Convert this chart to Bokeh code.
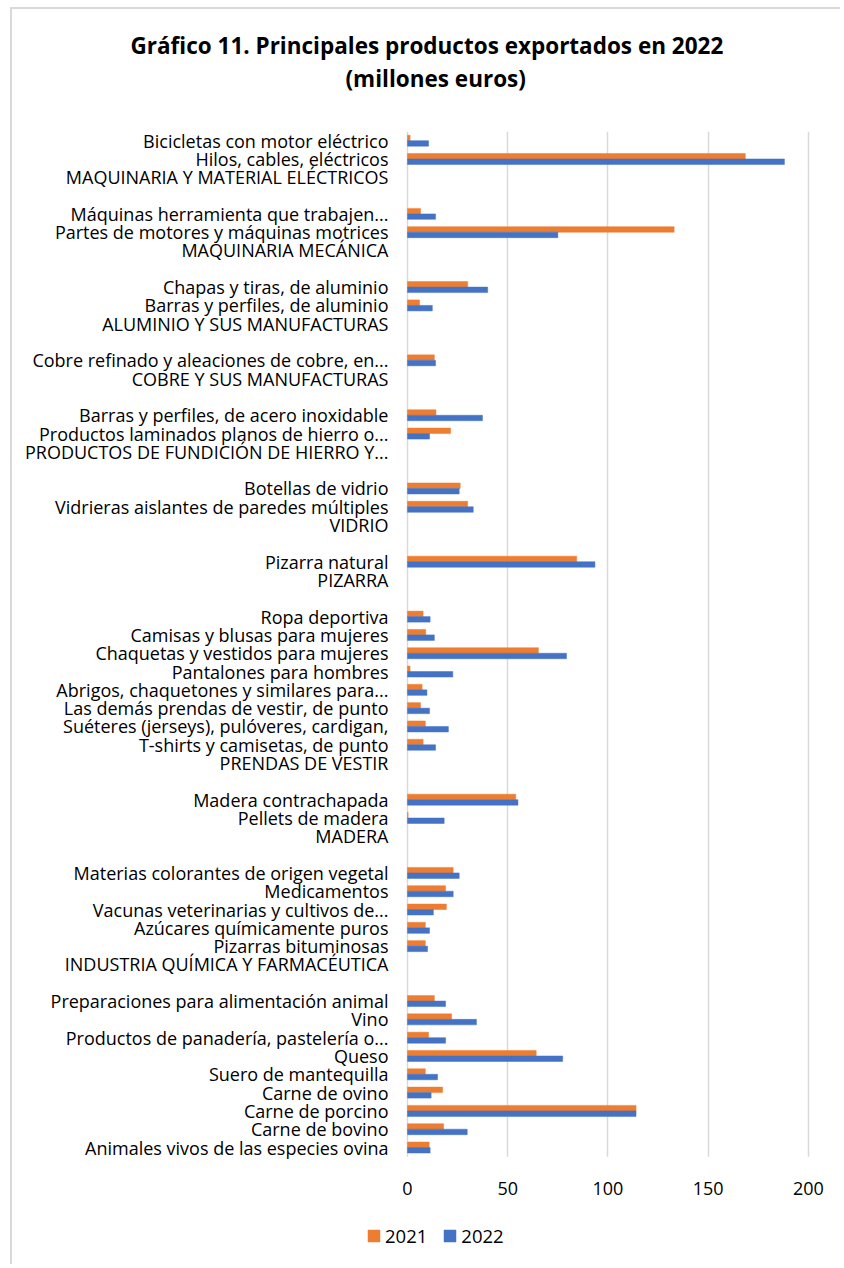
from bokeh.plotting import figure
from bokeh.models import (FactorRange, Range1d, ColumnDataSource, Legend,
                          LegendItem, Title, FixedTicker, BoxAnnotation)
from bokeh.transform import dodge
from bokeh.embed import file_html
from bokeh.resources import INLINE

# ---- data (top-to-bottom order as in the reference; "" = blank spacer row) ----
labels = [
    "Bicicletas con motor eléctrico",
    "Hilos, cables, eléctricos",
    "MAQUINARIA Y MATERIAL ELÉCTRICOS",
    "",
    "Máquinas herramienta que trabajen...",
    "Partes de motores y máquinas motrices",
    "MAQUINARIA MECÁNICA",
    "",
    "Chapas y tiras, de aluminio",
    "Barras y perfiles, de aluminio",
    "ALUMINIO Y SUS MANUFACTURAS",
    "",
    "Cobre refinado y aleaciones de cobre, en...",
    "COBRE Y SUS MANUFACTURAS",
    "",
    "Barras y perfiles, de acero inoxidable",
    "Productos laminados planos de hierro o...",
    "PRODUCTOS DE FUNDICIÓN DE HIERRO Y...",
    "",
    "Botellas de vidrio",
    "Vidrieras aislantes de paredes múltiples",
    "VIDRIO",
    "",
    "Pizarra natural",
    "PIZARRA",
    "",
    "Ropa deportiva",
    "Camisas y blusas para mujeres",
    "Chaquetas y vestidos para mujeres",
    "Pantalones para hombres",
    "Abrigos, chaquetones y similares para...",
    "Las demás prendas de vestir, de punto",
    "Suéteres (jerseys), pulóveres, cardigan,",
    "T-shirts y camisetas, de punto",
    "PRENDAS DE VESTIR",
    "",
    "Madera contrachapada",
    "Pellets de madera",
    "MADERA",
    "",
    "Materias colorantes de origen vegetal",
    "Medicamentos",
    "Vacunas veterinarias y cultivos de...",
    "Azúcares químicamente puros",
    "Pizarras bituminosas",
    "INDUSTRIA QUÍMICA Y FARMACÉUTICA",
    "",
    "Preparaciones para alimentación animal",
    "Vino",
    "Productos de panadería, pastelería o...",
    "Queso",
    "Suero de mantequilla",
    "Carne de ovino",
    "Carne de porcino",
    "Carne de bovino",
    "Animales vivos de las especies ovina",
]

v2021 = [
    1.3, 168.5, None, None,
    6.5, 133.0, None, None,
    30.0, 6.0, None, None,
    13.4, None, None,
    14.2, 21.5, None, None,
    26.3, 30.0, None, None,
    84.4, None, None,
    7.8, 9.1, 65.3, 1.3, 7.3, 6.5, 8.9, 7.8, None, None,
    54.0, 0.3, None, None,
    22.8, 19.0, 19.4, 8.9, 8.9, None, None,
    13.4, 22.0, 10.5, 64.2, 8.9, 17.5, 114.0, 18.0, 10.8,
]

v2022 = [
    10.5, 188.0, None, None,
    14.0, 75.0, None, None,
    40.0, 12.4, None, None,
    14.0, None, None,
    37.4, 11.0, None, None,
    25.8, 32.8, None, None,
    93.5, None, None,
    11.3, 13.4, 79.3, 22.6, 9.7, 11.0, 20.4, 14.0, None, None,
    55.1, 18.3, None, None,
    25.8, 22.8, 12.9, 11.0, 10.0, None, None,
    19.0, 34.4, 19.0, 77.4, 15.0, 11.8, 114.0, 29.8, 11.3,
]

x_ticks = [0, 50, 100, 150, 200]
series_names = ["2021", "2022"]
series_colors = ["#ED7D31", "#4472C4"]

title_1 = "Gráfico 11. Principales productos exportados en 2022"
title_2 = "(millones euros)"

# unique factor names (blank rows become distinct whitespace strings)
factors = []
k = 0
for lab in labels:
    if lab == "":
        k += 1
        factors.append(" " * k)
    else:
        factors.append(lab)

# extra empty room below the rows, for the tick labels and the legend
N_EXTRA = 6
extra = [" " * (k + j + 1) for j in range(N_EXTRA)]

keep = [i for i, v in enumerate(v2021) if v is not None]
src = ColumnDataSource(dict(
    row=[factors[i] for i in keep],
    y21=[v2021[i] for i in keep],
    y22=[v2022[i] for i in keep],
))

FONT = "Open Sans"

# the frame spans the whole canvas width; value 0 sits 395 px from its left
p = figure(width=830, height=1257,
           y_range=FactorRange(factors=extra + list(reversed(factors))),
           x_range=Range1d(-197.0, 216.97),
           output_backend="svg", toolbar_location=None,
           min_border_left=0, min_border_right=0,
           min_border_top=122, min_border_bottom=0)

r1 = p.hbar(y=dodge("row", 0.15, range=p.y_range), right="y21", left=0,
            height=0.3, source=src, fill_color=series_colors[0],
            line_color=series_colors[0], line_width=0.5)
r2 = p.hbar(y=dodge("row", -0.15, range=p.y_range), right="y22", left=0,
            height=0.3, source=src, fill_color=series_colors[1],
            line_color=series_colors[1], line_width=0.5)

p.outline_line_color = None
p.background_fill_color = "white"
p.border_fill_color = "white"

p.ygrid.grid_line_color = None
p.xgrid.grid_line_color = "#d9d9d9"
p.xgrid.grid_line_width = 1.5
p.xgrid.ticker = FixedTicker(ticks=x_ticks)
p.xgrid.level = "image"

# hide the grid below the last category row
p.add_layout(BoxAnnotation(top=N_EXTRA, fill_color="white", fill_alpha=1.0,
                           line_color=None, level="underlay"))

p.xaxis.ticker = FixedTicker(ticks=x_ticks)
p.xaxis.fixed_location = N_EXTRA
p.xaxis.axis_line_color = None
p.xaxis.major_tick_line_color = None
p.xaxis.minor_tick_line_color = None
p.xaxis.major_label_standoff = 19
p.xaxis.major_label_text_font = FONT
p.xaxis.major_label_text_font_size = "18px"
p.xaxis.major_label_text_color = "#000000"

p.yaxis.fixed_location = 0
p.yaxis.axis_line_color = None
p.yaxis.major_tick_line_color = None
p.yaxis.minor_tick_line_color = None
p.yaxis.major_label_standoff = 13
p.yaxis.major_label_text_font = FONT
p.yaxis.major_label_text_font_size = "18px"
p.yaxis.major_label_text_color = "#000000"

spacer = Title(text=" ", text_font_size="1px", standoff=35)
t2 = Title(text=title_2, align="left", offset=333, standoff=0,
           text_font=FONT, text_font_size="22.5px", text_font_style="bold",
           text_color="#000000")
t1 = Title(text=title_1, align="left", offset=118, standoff=0,
           text_font=FONT, text_font_size="22.5px", text_font_style="bold",
           text_color="#000000")
p.add_layout(spacer, "above")
p.add_layout(t2, "above")
p.add_layout(t1, "above")

legend = Legend(items=[LegendItem(label=series_names[0], renderers=[r1]),
                       LegendItem(label=series_names[1], renderers=[r2])],
                orientation="horizontal", location=(354, 18),
                glyph_width=15, glyph_height=15, label_height=20,
                label_standoff=4, spacing=15,
                label_text_font=FONT, label_text_font_size="18.5px",
                label_text_color="#000000",
                padding=0, margin=0, border_line_color=None,
                background_fill_alpha=0)
p.add_layout(legend, "center")

p.styles = {"margin-left": "10px", "margin-top": "7px",
            "border-top": "2px solid #d9d9d9",
            "border-left": "2px solid #d9d9d9"}

open("out.html", "w").write(file_html(p, INLINE))
